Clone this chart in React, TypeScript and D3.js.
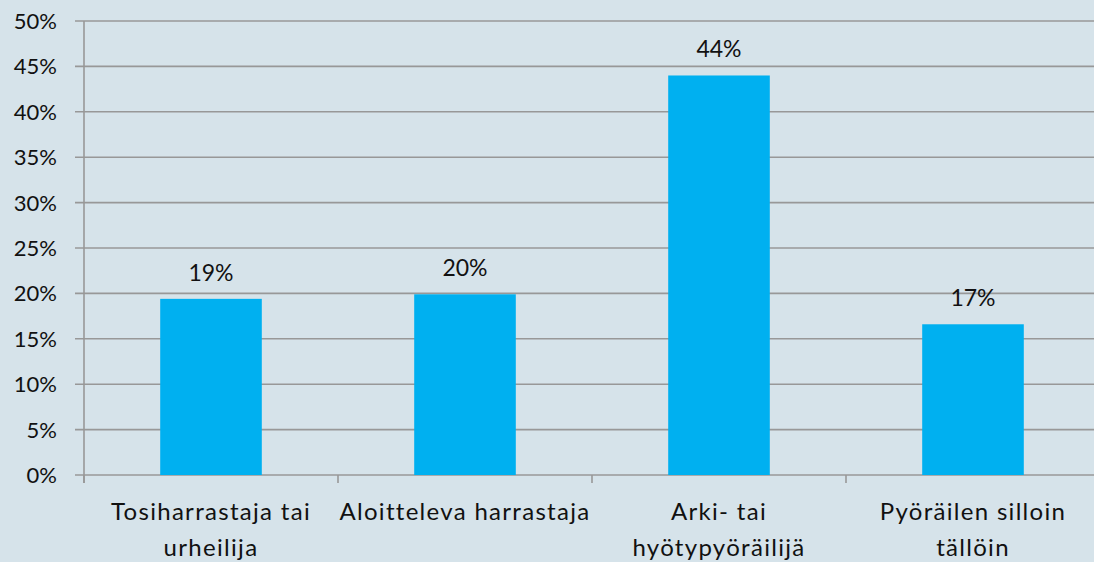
import React from "react";
import * as d3 from "d3";

const categories: string[][] = [
  ["Tosiharrastaja tai", "urheilija"],
  ["Aloitteleva harrastaja"],
  ["Arki- tai", "hyötypyöräilijä"],
  ["Pyöräilen silloin", "tällöin"],
];
const values: number[] = [0.194, 0.199, 0.44, 0.166];
const valueLabels: string[] = ["19%", "20%", "44%", "17%"];
const yTicks: number[] = [0, 0.05, 0.1, 0.15, 0.2, 0.25, 0.3, 0.35, 0.4, 0.45, 0.5];

const W = 1094;
const H = 562;
const left = 84;
const right = 1100;
const top = 21;
const bottom = 475;
const font = "Lato, 'Open Sans', sans-serif";

export default function App() {
  const x = d3.scaleBand<number>().domain(d3.range(categories.length)).range([left, right]).paddingInner(0.6).paddingOuter(0.3);
  const y = d3.scaleLinear().domain([0, 0.5]).range([bottom, top]);
  const fmt = d3.format(".0%");
  const band = (right - left) / categories.length;
  return (
    <svg width={W} height={H} style={{ position: "absolute", left: 0, top: 0, display: "block" }}>
      <rect x={0} y={0} width={W} height={H} fill="#D6E3EA" />
      {yTicks.map((t) => (
        <g key={t}>
          <line x1={left - 9} x2={right} y1={y(t)} y2={y(t)} stroke="#989898" strokeWidth={1.6} />
          <text x={57} y={y(t)} dy="0.36em" textAnchor="end" fontFamily={font} fontSize={22} fill="#111">
            {fmt(t)}
          </text>
        </g>
      ))}
      <line x1={left} x2={left} y1={top} y2={bottom + 8} stroke="#989898" strokeWidth={1.6} />
      {d3.range(categories.length + 1).map((i) => (
        <line key={i} x1={left + i * band} x2={left + i * band} y1={bottom} y2={bottom + 8} stroke="#989898" strokeWidth={1.6} />
      ))}
      {values.map((v, i) => (
        <g key={i}>
          <rect x={x(i)!} y={y(v)} width={x.bandwidth()} height={bottom - y(v)} fill="#00B0F0" />
          <text x={x(i)! + x.bandwidth() / 2} y={y(v) - 18} textAnchor="middle" fontFamily={font} fontSize={23} fill="#111">
            {valueLabels[i]}
          </text>
          {categories[i].map((line, j) => (
            <text key={j} x={x(i)! + x.bandwidth() / 2} y={520 + j * 36} textAnchor="middle" fontFamily={font} fontSize={24} fill="#111" letterSpacing={1.3}>
              {line}
            </text>
          ))}
        </g>
      ))}
    </svg>
  );
}
